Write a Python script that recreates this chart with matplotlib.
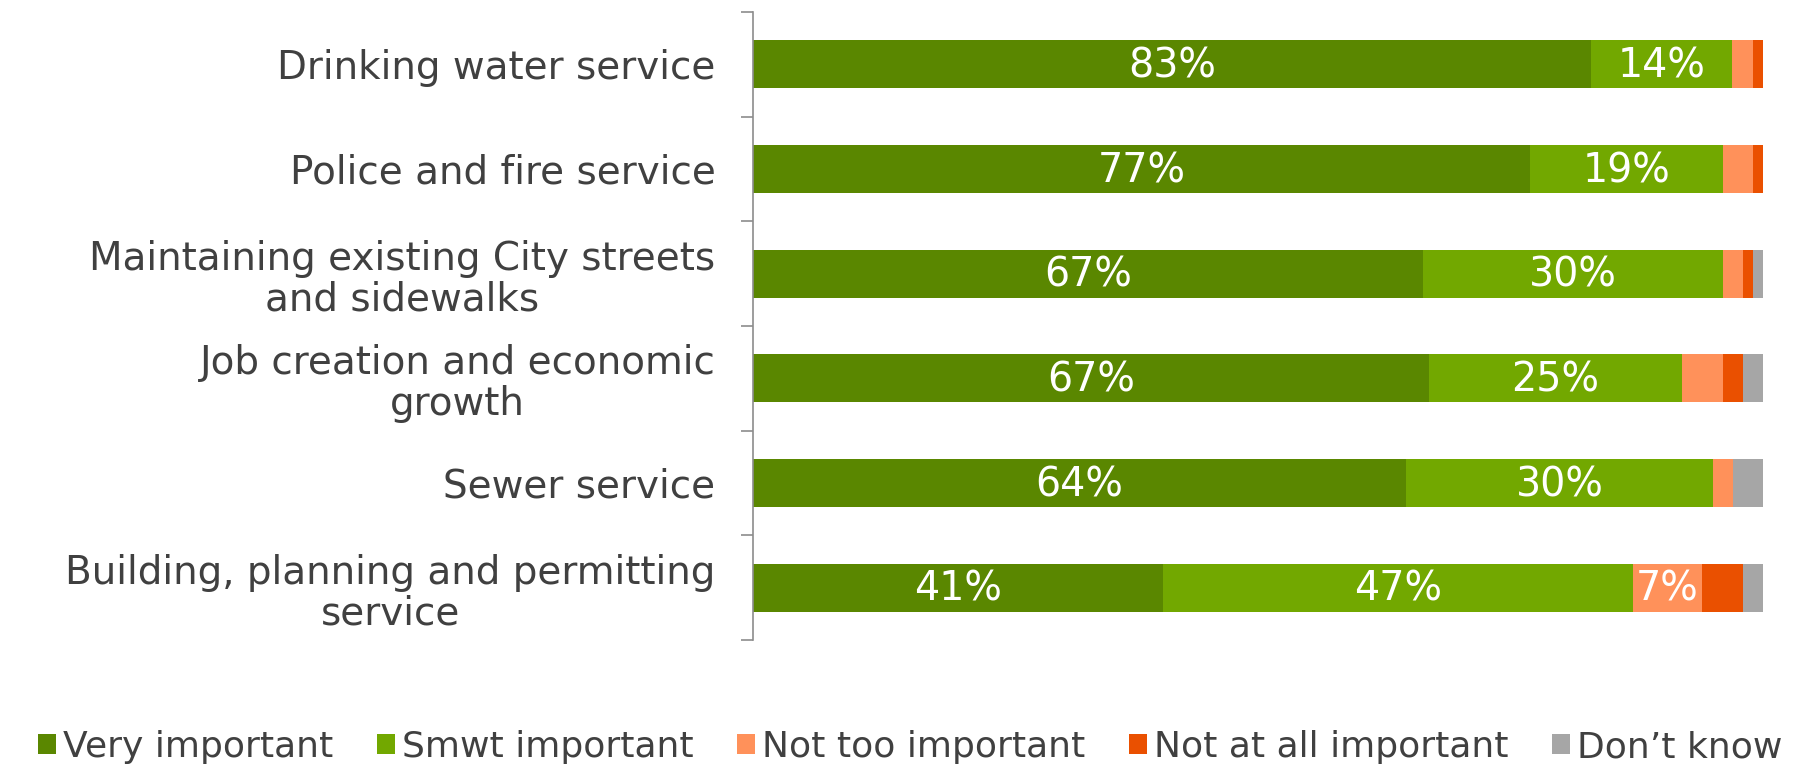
import matplotlib
matplotlib.use("Agg")
import matplotlib.pyplot as plt
import numpy as np

categories = [
    "Drinking water service",
    "Police and fire service",
    "Maintaining existing City streets\nand sidewalks",
    "Job creation and economic\ngrowth",
    "Sewer service",
    "Building, planning and permitting\nservice",
]
series_names = ["Very important", "Smwt important", "Not too important",
                "Not at all important", "Don\u2019t know"]
# segment widths (percent)
very_important = [83.0, 76.9, 66.3, 66.9, 64.7, 40.6]
smwt_important = [13.9, 19.1, 29.7, 25.1, 30.3, 46.5]
not_too_important = [2.1, 3.0, 2.0, 4.0, 2.0, 6.9]
not_at_all_important = [1.0, 1.0, 1.0, 2.0, 0.0, 4.0]
dont_know = [0.0, 0.0, 1.0, 2.0, 3.0, 2.0]
# labels printed in the bars
very_labels = [83, 77, 67, 67, 64, 41]
smwt_labels = [14, 19, 30, 25, 30, 47]
not_too_labels = [None, None, None, None, None, 7]
colors = ["#5A8700", "#72A800", "#FF915A", "#EA5000", "#A6A6A6"]

plt.rcParams['font.family'] = ['DejaVu Sans']
text_color = "#404040"

fig = plt.figure(figsize=(18.2, 7.67), dpi=100)
ax = fig.add_axes([753/1820, 1-640/767, (1763-753)/1820, (640-12)/767])

series = [very_important, smwt_important, not_too_important,
          not_at_all_important, dont_know]
labels_all = [very_labels, smwt_labels, not_too_labels, None, None]
y = np.arange(len(categories))
left = np.zeros(len(categories))
for vals, name, col, labs in zip(series, series_names, colors, labels_all):
    vals = np.array(vals, dtype=float)
    ax.barh(y, vals, left=left, height=0.46, color=col, label=name,
            edgecolor='none')
    if labs is not None:
        for yi, (l, v, lab) in enumerate(zip(left, vals, labs)):
            if lab is not None:
                ax.text(l + v/2, yi + 0.02, f"{lab}%", ha='center', va='center',
                        color='white', fontsize=28.5)
    left += vals

ax.set_xlim(0, 100)
ax.set_ylim(len(categories)-0.5, -0.5)
ax.set_yticks(y)
ax.set_yticklabels(categories, fontsize=28, color=text_color,
                   multialignment='center', linespacing=1.1)
ax.set_yticks(np.arange(-0.5, len(categories)), minor=True)
ax.tick_params(axis='y', which='major', length=0, pad=27)
ax.tick_params(axis='y', which='minor', length=9, width=1.2, color="#8C8C8C")
ax.set_xticks([])
for s in ['top', 'right', 'bottom']:
    ax.spines[s].set_visible(False)
ax.spines['left'].set_color("#8C8C8C")
ax.spines['left'].set_linewidth(1.2)

handles, labels = ax.get_legend_handles_labels()
leg = fig.legend(handles, labels, loc='center', bbox_to_anchor=(0.5, 1-747/767),
                 ncol=5, frameon=False, fontsize=26, handlelength=0.5,
                 handleheight=0.5, handletextpad=0.2, columnspacing=1.2,
                 labelcolor=text_color, borderaxespad=0)

fig.savefig("out.png", dpi=100, facecolor='white')
